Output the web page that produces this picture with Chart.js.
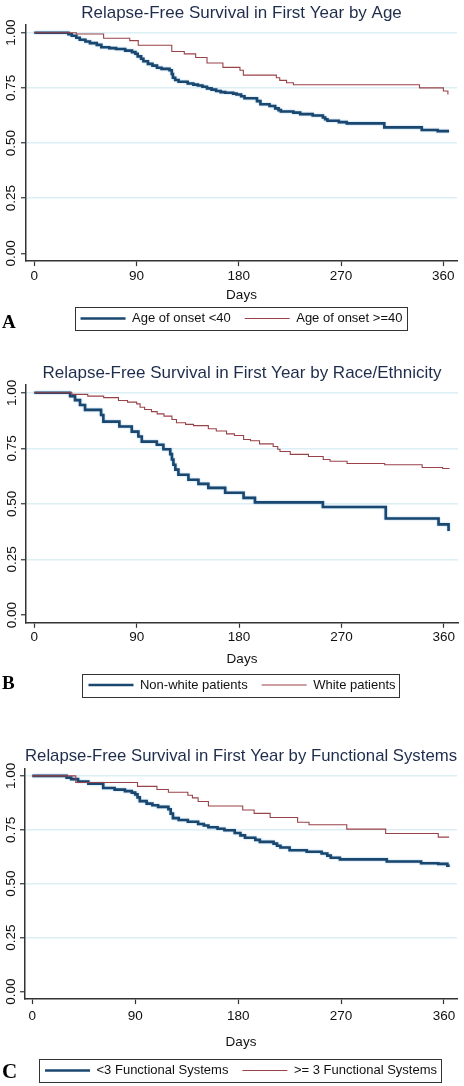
<!DOCTYPE html>
<html><head><meta charset="utf-8">
<script src="https://cdn.jsdelivr.net/npm/chart.js@4.4.1/dist/chart.umd.min.js"></script>
<style>
html,body{margin:0;padding:0;background:#fff;width:464px;height:1086px;overflow:hidden;position:relative;}
canvas{position:absolute;left:0;}
.lbl{position:absolute;left:2px;font-family:'Liberation Serif','Times New Roman',serif;font-weight:bold;color:#000;line-height:1;}
</style></head><body>
<canvas id="cA" width="464" height="340" style="top:0px"></canvas>
<canvas id="cB" width="464" height="350" style="top:360px"></canvas>
<canvas id="cC" width="464" height="350" style="top:740px"></canvas>
<div class="lbl" style="top:312px;font-size:19px">A</div>
<div class="lbl" style="top:673px;font-size:19px">B</div>
<div class="lbl" style="top:1061px;font-size:21px">C</div>
<script>
// ---------- data ----------
const xTicks = [0, 90, 180, 270, 360];
const yTicks = [0, 0.25, 0.5, 0.75, 1];

const titleA = 'Relapse-Free Survival in First Year by Age';
const titleB = 'Relapse-Free Survival in First Year by Race/Ethnicity';
const titleC = 'Relapse-Free Survival in First Year by Functional Systems';

const legendA = ['Age of onset <40', 'Age of onset >=40'];
const legendB = ['Non-white patients', 'White patients'];
const legendC = ['<3 Functional Systems', '>= 3 Functional Systems'];

// Panel A
const ageYoungDays = [0,30,33,37,40,45,49,55,59,66,72,80,86,89,91,94,96,100,104,108,112,119,121,122,124,127,135,140,144,148,152,156,160,164,168,175,178,182,185,196,199,207,212,215,217,228,234,245,254,256,258,268,275,308,341,355,365];
const ageYoungSurv = [1,0.993,0.986,0.977,0.968,0.960,0.953,0.945,0.934,0.930,0.926,0.919,0.912,0.905,0.893,0.882,0.871,0.859,0.851,0.841,0.836,0.830,0.813,0.796,0.786,0.778,0.770,0.765,0.761,0.755,0.748,0.742,0.736,0.731,0.728,0.724,0.720,0.712,0.703,0.690,0.676,0.668,0.657,0.649,0.643,0.638,0.631,0.625,0.616,0.608,0.601,0.595,0.589,0.571,0.559,0.554,0.554];
const ageOldDays = [0,37,61,84,91.5,121,132,142,152,166,181,184,213,216,222,228,339,360,364];
const ageOldSurv = [1,0.994,0.975,0.964,0.943,0.915,0.904,0.888,0.863,0.843,0.830,0.808,0.796,0.784,0.773,0.764,0.750,0.736,0.720];

// Panel B
const nonWhiteDays = [0,31.5,35.8,40.2,44.6,58.7,60.7,74.8,85.7,91.5,94.5,107.7,113.5,119.5,121,122.3,124,126.7,135.5,144.3,153,167.8,184,194,253.7,309,355.4,364.2];
const nonWhiteSurv = [1,0.985,0.967,0.945,0.923,0.900,0.870,0.848,0.825,0.803,0.780,0.766,0.746,0.724,0.700,0.676,0.654,0.631,0.609,0.590,0.572,0.550,0.527,0.507,0.486,0.434,0.408,0.378];
const whiteDays = [0,33,47,61,74,82,90,93,97,103,108,114,121,125,133,140,153,160,169,176,184,190,198,210,214,216,225,241,254,260,275,308,341,359,365];
const whiteSurv = [1,0.993,0.985,0.978,0.965,0.958,0.950,0.935,0.925,0.915,0.905,0.895,0.880,0.865,0.858,0.852,0.838,0.828,0.815,0.808,0.790,0.784,0.770,0.758,0.746,0.736,0.723,0.713,0.700,0.692,0.682,0.676,0.664,0.659,0.659];

// Panel C
const fsLowDays = [0,30,34,40,49,62,72,81,87,90,92,94,100,105,110,119,121,123,128,136,145,150,154,162,168,177,182,186,195,199,211,214,217,225,240,253,258,261,269,310,340,355,363,365];
const fsLowSurv = [1,0.992,0.985,0.974,0.964,0.944,0.936,0.929,0.922,0.914,0.900,0.883,0.871,0.864,0.856,0.845,0.825,0.804,0.795,0.787,0.777,0.770,0.762,0.755,0.748,0.735,0.724,0.713,0.703,0.694,0.686,0.676,0.668,0.655,0.648,0.640,0.630,0.620,0.613,0.603,0.595,0.592,0.583,0.583];
const fsHighDays = [0,38,92,109,119,136,140,145,154,184,194,208,232,242,275,309,355,364.5];
const fsHighSurv = [1,0.969,0.951,0.937,0.924,0.910,0.898,0.881,0.860,0.842,0.826,0.807,0.785,0.773,0.753,0.733,0.716,0.716];

// ---------- style / layout ----------
const FONT = "'Liberation Sans', Arial, Helvetica, sans-serif";
const BLUE = '#1a476f';
const RED = '#9a4249';
const layouts = {
  A: {axisLeft:26, padRight:7, xMin:-7.3, xMax:372, titleT:2.8, titleB:1.8, xTickPad:1.9, xTitleTop:0.8, xTitleBottom:-5.1, layoutBottom:5, yTickPad:-3.3},
  B: {axisLeft:26, padRight:6, xMin:-7.3, xMax:372.5, titleT:3.0, titleB:1.6, xTickPad:1.2, xTitleTop:5.0, xTitleBottom:-3.1, layoutBottom:8.5, yTickPad:-4},
  C: {axisLeft:25, padRight:7, xMin:-6.4, xMax:371.4, titleT:5.8, titleB:2.1, xTickPad:3.9, xTitleTop:5.8, xTitleBottom:-0.1, layoutBottom:3, yTickPad:-4.5}
};

const legendBox = {
  id: 'legendBox',
  afterDraw(chart) {
    const lg = chart.legend;
    if (!lg || !lg.legendHitBoxes || !lg.legendHitBoxes.length) return;
    const hb = lg.legendHitBoxes;
    const last = hb[hb.length - 1];
    const l = hb[0].left - 6, r = last.left + last.width + 4;
    const cy = hb[0].top + hb[0].height / 2;
    const ctx = chart.ctx;
    ctx.save();
    ctx.strokeStyle = '#333';
    ctx.lineWidth = 1;
    ctx.strokeRect(Math.round(l) + 0.5, Math.round(cy - 11.5) + 0.5, Math.round(r - l), 23);
    ctx.restore();
  }
};

const halo = {
  id: 'halo',
  beforeDatasetDraw(chart, args) {
    if (args.index === 0) {
      chart.ctx.save();
      chart.ctx.shadowColor = 'rgba(120,175,215,0.75)';
      chart.ctx.shadowBlur = 2;
    }
  },
  afterDatasetDraw(chart, args) {
    if (args.index === 0) chart.ctx.restore();
  }
};

function toPts(days, surv) { return days.map((d, i) => ({x: d, y: surv[i]})); }

function makePanel(id, L, title, names, d1, s1, d2, s2) {
  new Chart(document.getElementById(id), {
    type: 'line',
    data: {
      datasets: [
        {label: names[0], data: toPts(d1, s1), borderColor: BLUE, backgroundColor: BLUE, borderWidth: 2.6, stepped: true, pointRadius: 0, fill: false, order: 1},
        {label: names[1], data: toPts(d2, s2), borderColor: RED, backgroundColor: RED, borderWidth: 1.1, stepped: true, pointRadius: 0, fill: false, order: 0}
      ]
    },
    options: {
      responsive: false, animation: false, devicePixelRatio: 1, events: [],
      layout: {padding: {left: 0, right: L.padRight, top: 0, bottom: L.layoutBottom}},
      plugins: {
        tooltip: {enabled: false},
        title: {display: true, text: title, fullSize: false, color: '#1f2d4d',
          font: {family: FONT, size: 17, weight: 'normal'}, padding: {top: L.titleT, bottom: L.titleB}},
        legend: {display: true, position: 'bottom', fullSize: false,
          labels: {usePointStyle: true, pointStyle: 'line', pointStyleWidth: 45, padding: 14,
            font: {family: FONT, size: 13}, color: '#111',
            sort: (a, b) => a.datasetIndex - b.datasetIndex}}
      },
      scales: {
        x: {type: 'linear', min: L.xMin, max: L.xMax,
          afterBuildTicks: s => { s.ticks = xTicks.map(v => ({value: v})); },
          ticks: {autoSkip: false, maxRotation: 0, padding: L.xTickPad, color: '#111',
            font: {family: FONT, size: 13.5}, callback: v => String(v)},
          grid: {drawOnChartArea: false, drawTicks: true, tickLength: 5, tickColor: '#333', tickWidth: 1.2},
          border: {display: true, color: '#333', width: 1.5},
          title: {display: true, text: 'Days', color: '#111', font: {family: FONT, size: 13.5},
            padding: {top: L.xTitleTop, bottom: L.xTitleBottom}}
        },
        y: {type: 'linear', min: -0.035, max: 1.035,
          afterBuildTicks: s => { s.ticks = yTicks.map(v => ({value: v})); },
          afterFit: s => { s.width = L.axisLeft; },
          ticks: {autoSkip: false, minRotation: 90, maxRotation: 90, crossAlign: 'center',
            padding: L.yTickPad, color: '#111', font: {family: FONT, size: 13.5},
            callback: v => Number(v).toFixed(2)},
          grid: {color: c => (c.tick && c.tick.value === 0) ? 'rgba(0,0,0,0)' : '#dceff5',
            lineWidth: 1.5, drawTicks: true, tickLength: 5, tickColor: '#333', tickWidth: 1.2},
          border: {display: true, color: '#333', width: 1.5}
        }
      }
    },
    plugins: [legendBox, halo]
  });
}

makePanel('cA', layouts.A, titleA, legendA, ageYoungDays, ageYoungSurv, ageOldDays, ageOldSurv);
makePanel('cB', layouts.B, titleB, legendB, nonWhiteDays, nonWhiteSurv, whiteDays, whiteSurv);
makePanel('cC', layouts.C, titleC, legendC, fsLowDays, fsLowSurv, fsHighDays, fsHighSurv);
</script>
</body></html>
